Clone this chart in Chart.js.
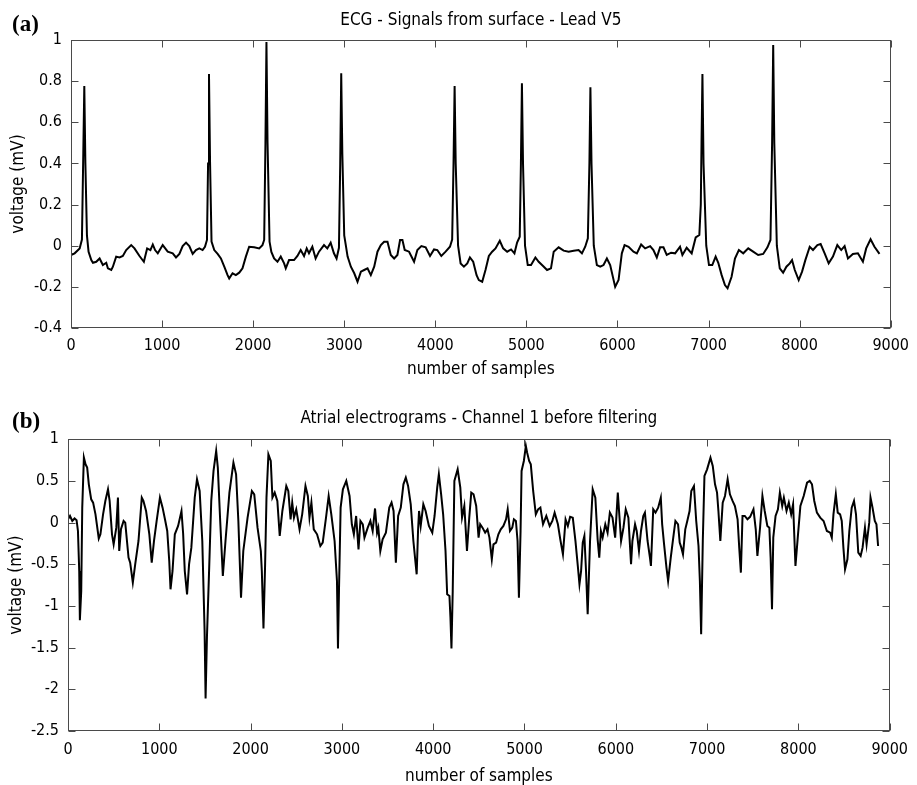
<!DOCTYPE html>
<html><head><meta charset="utf-8">
<script src="https://cdn.jsdelivr.net/npm/chart.js@4.4.0/dist/chart.umd.min.js"></script>
<style>
html,body{margin:0;padding:0;background:#fff;overflow:hidden;width:917px;height:785px;}
.wrap{position:absolute;left:0;width:917px;}
.lbl{position:absolute;left:12px;font:bold 23px/23px 'Liberation Serif','Times New Roman',serif;color:#000;}
</style></head>
<body>
<div class="wrap" style="top:0;height:385px"><canvas id="c1"></canvas></div>
<div class="wrap" style="top:385px;height:400px"><canvas id="c2"></canvas></div>
<div class="lbl" style="top:12px">(a)</div>
<div class="lbl" style="top:409px">(b)</div>
<script>
const xTickValues = [0,1000,2000,3000,4000,5000,6000,7000,8000,9000];
const ecgTickValues = [-0.4,-0.2,0,0.2,0.4,0.6,0.8,1];
const atrTickValues = [-2.5,-2,-1.5,-1,-0.5,0,0.5,1];
const ecgTitle = 'ECG - Signals from surface - Lead V5';
const atrTitle = 'Atrial electrograms - Channel 1 before filtering';
const xTitle = 'number of samples';
const yTitle = 'voltage (mV)';

const ecgX = [0,40,95,120,135,146,158,175,193,223,241,277,314,350,387,405,442,460,496,533,569,606,661,697,752,800,836,872,898,923,953,1007,1062,1117,1153,1190,1226,1263,1299,1336,1372,1409,1445,1471,1493,1505,1515,1527,1543,1573,1610,1646,1683,1719,1737,1774,1810,1847,1883,1920,1956,2011,2066,2102,2121,2135,2146,2158,2180,2200,2230,2267,2303,2340,2358,2394,2449,2486,2522,2559,2588,2613,2650,2686,2723,2778,2814,2851,2887,2916,2942,2956,2967,2979,3000,3018,3037,3073,3110,3146,3183,3219,3256,3292,3329,3365,3402,3438,3475,3511,3548,3584,3613,3639,3664,3712,3767,3803,3847,3894,3942,3986,4022,4066,4113,4161,4185,4200,4212,4224,4250,4278,4314,4351,4380,4416,4453,4478,4515,4551,4588,4624,4661,4708,4745,4789,4832,4869,4898,4927,4940,4951,4963,4985,5015,5051,5099,5135,5183,5227,5270,5300,5354,5409,5464,5519,5573,5610,5646,5675,5692,5703,5715,5740,5774,5811,5847,5884,5920,5975,6012,6048,6078,6122,6176,6213,6260,6304,6359,6395,6432,6468,6505,6541,6589,6633,6687,6713,6760,6815,6859,6899,6915,6923,6933,6945,6975,7005,7041,7078,7107,7144,7180,7209,7253,7290,7333,7381,7436,7490,7545,7600,7647,7680,7698,7710,7722,7750,7782,7819,7855,7892,7917,7947,7990,8027,8063,8111,8147,8195,8231,8275,8319,8366,8414,8457,8494,8531,8585,8640,8695,8731,8779,8822,8877];
const ecgY = [-0.045,-0.037,-0.013,0.03,0.45,0.776,0.4,0.05,-0.03,-0.07,-0.083,-0.078,-0.062,-0.094,-0.083,-0.11,-0.118,-0.102,-0.053,-0.057,-0.05,-0.021,0.003,-0.013,-0.05,-0.078,-0.013,-0.021,0.006,-0.021,-0.037,0.003,-0.029,-0.037,-0.057,-0.04,-0.002,0.015,-0.002,-0.04,-0.021,-0.013,-0.021,-0.005,0.028,0.4,0.835,0.4,0.02,-0.021,-0.04,-0.062,-0.102,-0.143,-0.159,-0.134,-0.143,-0.131,-0.11,-0.053,-0.005,-0.008,-0.013,0.003,0.028,0.5,0.99,0.5,0.02,-0.03,-0.062,-0.078,-0.053,-0.086,-0.11,-0.07,-0.07,-0.05,-0.021,-0.05,-0.013,-0.037,-0.005,-0.062,-0.029,0.003,-0.013,0.015,-0.037,-0.062,-0.01,0.4,0.838,0.45,0.05,0.0,-0.053,-0.102,-0.134,-0.175,-0.126,-0.118,-0.11,-0.143,-0.102,-0.029,0.003,0.019,0.019,-0.045,-0.062,-0.045,0.028,0.028,-0.021,-0.029,-0.078,-0.021,-0.002,-0.008,-0.05,-0.018,-0.021,-0.05,-0.029,-0.005,0.03,0.4,0.776,0.4,0.0,-0.086,-0.102,-0.086,-0.057,-0.078,-0.143,-0.167,-0.175,-0.118,-0.05,-0.029,-0.013,0.024,-0.013,-0.029,-0.018,-0.037,0.015,0.044,0.4,0.79,0.4,0.0,-0.094,-0.094,-0.057,-0.078,-0.099,-0.118,-0.11,-0.029,-0.008,-0.024,-0.029,-0.024,-0.021,-0.037,-0.005,0.036,0.4,0.77,0.4,0.0,-0.094,-0.102,-0.094,-0.062,-0.094,-0.2,-0.167,-0.037,0.003,-0.005,-0.029,-0.037,0.006,-0.013,-0.002,-0.021,-0.057,-0.008,-0.008,-0.045,-0.034,-0.037,-0.005,-0.045,-0.01,-0.037,0.04,0.052,0.2,0.5,0.835,0.4,0.0,-0.094,-0.094,-0.053,-0.083,-0.143,-0.191,-0.207,-0.151,-0.062,-0.021,-0.037,-0.013,-0.029,-0.045,-0.04,-0.008,0.028,0.5,0.976,0.5,0.0,-0.11,-0.131,-0.102,-0.086,-0.07,-0.118,-0.167,-0.126,-0.07,-0.005,-0.021,0.003,0.008,-0.037,-0.086,-0.053,0.003,-0.021,-0.002,-0.062,-0.04,-0.037,-0.078,-0.013,0.031,-0.005,-0.04];

const atrX = [0,22,47,72,94,109,123,130,145,156,174,192,210,228,254,275,301,337,355,384,409,438,456,482,500,529,547,561,580,609,627,663,681,710,736,772,808,826,855,891,917,942,971,1007,1036,1062,1087,1109,1123,1145,1170,1206,1243,1261,1279,1304,1326,1351,1388,1413,1442,1471,1496,1507,1522,1543,1569,1594,1623,1641,1667,1696,1725,1768,1812,1841,1866,1895,1920,1967,2014,2040,2076,2112,2123,2141,2159,2174,2195,2221,2239,2264,2293,2319,2348,2391,2413,2438,2456,2475,2500,2536,2565,2601,2627,2645,2666,2692,2728,2764,2790,2826,2855,2884,2920,2946,2957,2968,2986,3011,3048,3084,3109,3131,3156,3182,3203,3229,3247,3283,3312,3337,3363,3385,3399,3421,3446,3482,3519,3544,3566,3591,3616,3645,3674,3700,3725,3754,3783,3819,3834,3845,3863,3892,3917,3953,3990,4015,4044,4062,4087,4109,4135,4153,4178,4189,4200,4214,4232,4268,4297,4316,4341,4370,4395,4417,4442,4471,4497,4515,4540,4569,4595,4616,4642,4660,4689,4714,4740,4769,4798,4816,4841,4866,4884,4906,4924,4939,4957,4968,4993,5015,5029,5051,5069,5095,5124,5149,5174,5203,5239,5276,5305,5330,5366,5392,5421,5450,5475,5500,5529,5558,5584,5602,5620,5638,5656,5674,5692,5718,5747,5776,5801,5819,5837,5856,5885,5910,5935,5964,5993,6022,6037,6058,6084,6109,6138,6167,6182,6211,6229,6254,6276,6301,6319,6348,6374,6385,6410,6435,6464,6493,6508,6529,6555,6573,6602,6627,6653,6682,6700,6718,6736,6761,6783,6808,6827,6856,6881,6906,6921,6935,6953,6971,7000,7037,7062,7087,7109,7124,7145,7171,7196,7225,7250,7279,7305,7334,7352,7370,7388,7413,7442,7471,7508,7533,7551,7580,7606,7631,7660,7682,7696,7711,7725,7750,7776,7797,7823,7841,7870,7895,7921,7942,7968,7993,8022,8058,8095,8124,8149,8174,8203,8239,8276,8312,8348,8366,8384,8410,8431,8457,8475,8493,8511,8537,8558,8584,8609,8631,8656,8682,8703,8729,8747,8776,8790,8812,8837,8855,8873];
const atrY = [0.04,0.08,0.02,0.05,0.03,-0.1,-0.58,-1.17,-0.82,0.18,0.78,0.7,0.66,0.46,0.28,0.24,0.1,-0.19,-0.14,0.1,0.26,0.4,0.26,-0.14,-0.26,-0.06,0.3,-0.34,-0.08,0.02,0.0,-0.42,-0.48,-0.72,-0.5,-0.22,0.3,0.26,0.14,-0.14,-0.48,-0.22,0.02,0.3,0.18,0.04,-0.1,-0.46,-0.8,-0.58,-0.14,-0.04,0.14,-0.13,-0.58,-0.86,-0.5,-0.3,0.3,0.52,0.38,-0.22,-1.29,-2.11,-1.37,-0.66,0.26,0.62,0.86,0.66,0.02,-0.64,-0.22,0.36,0.72,0.58,0.02,-0.9,-0.34,0.06,0.38,0.34,-0.06,-0.34,-0.58,-1.27,-0.5,0.3,0.82,0.74,0.3,0.36,0.26,-0.16,0.14,0.44,0.38,0.04,0.24,0.06,0.16,-0.08,0.1,0.44,0.32,0.06,0.24,-0.08,-0.14,-0.28,-0.24,0.06,0.32,0.1,-0.22,-0.7,-1.51,-0.82,0.18,0.4,0.5,0.32,-0.02,-0.14,0.08,-0.32,0.02,-0.02,-0.18,-0.06,0.02,-0.1,0.17,-0.12,-0.06,-0.34,-0.2,-0.12,0.18,0.24,0.14,-0.48,0.08,0.18,0.46,0.54,0.44,0.22,-0.22,-0.62,-0.1,0.14,-0.04,0.22,0.14,-0.04,-0.12,0.08,0.42,0.58,0.34,0.1,-0.34,-0.86,-0.88,-1.14,-1.51,-0.82,0.5,0.64,0.42,0.06,0.2,-0.34,0.06,0.36,0.34,0.2,-0.18,-0.02,-0.06,-0.12,-0.08,-0.18,-0.44,-0.26,-0.24,-0.14,-0.08,-0.04,0.04,0.16,-0.1,-0.06,0.04,0.02,-0.22,-0.9,-0.1,0.62,0.74,0.92,0.84,0.74,0.7,0.38,0.1,0.16,0.18,-0.02,0.08,-0.04,0.02,0.12,-0.02,-0.2,-0.38,0.04,-0.04,0.07,0.06,-0.22,-0.52,-0.74,-0.58,-0.24,-0.16,-0.58,-1.1,-0.22,0.4,0.3,-0.2,-0.42,-0.1,-0.18,-0.02,-0.12,0.12,0.06,-0.18,0.36,0.12,-0.22,-0.06,0.16,0.06,-0.5,-0.22,-0.02,-0.1,-0.34,-0.1,0.08,0.12,-0.22,-0.42,-0.52,0.16,0.12,0.18,0.3,-0.02,-0.26,-0.54,-0.7,-0.42,-0.2,0.02,-0.02,-0.24,-0.3,-0.38,-0.08,0.02,0.14,0.38,0.44,0.02,-0.28,-0.7,-1.34,-0.22,0.56,0.64,0.78,0.68,0.46,0.36,0.14,-0.22,0.24,0.32,0.52,0.34,0.26,0.2,0.04,-0.3,-0.6,0.08,0.08,0.04,0.07,0.16,-0.08,-0.4,-0.06,0.32,0.14,-0.04,-0.06,-0.42,-1.04,-0.18,0.08,0.16,0.36,0.2,0.3,0.14,0.24,0.1,0.22,-0.52,-0.18,0.2,0.32,0.48,0.5,0.46,0.26,0.12,0.06,0.02,-0.1,-0.12,-0.18,0.1,0.34,0.12,0.1,0.02,-0.3,-0.56,-0.44,-0.1,0.18,0.26,0.1,-0.36,-0.4,-0.3,-0.06,-0.26,0.0,0.3,0.18,0.02,-0.02,-0.28];

const FONT = "'DejaVu Sans Condensed','DejaVu Sans',sans-serif";
Chart.defaults.font.family = FONT;
Chart.defaults.color = '#000';
const FRAME = '#4a4a4a';

const frameTicks = {
  id: 'frameTicks',
  afterDraw(chart) {
    const {ctx, chartArea: a, scales} = chart;
    const L = Math.round(a.left) + 0.5, R = Math.round(a.right) - 0.5;
    const T = Math.round(a.top) + 0.5, B = Math.round(a.bottom) - 0.5;
    const len = 7;
    ctx.save();
    ctx.strokeStyle = FRAME; ctx.lineWidth = 1;
    ctx.beginPath();
    scales.x.ticks.forEach(t => {
      const p = Math.round(scales.x.getPixelForValue(t.value)) + 0.5;
      ctx.moveTo(p, B); ctx.lineTo(p, B - len);
      ctx.moveTo(p, T); ctx.lineTo(p, T + len);
    });
    scales.y.ticks.forEach(t => {
      const p = Math.round(scales.y.getPixelForValue(t.value)) + 0.5;
      ctx.moveTo(L, p); ctx.lineTo(L + len, p);
      ctx.moveTo(R, p); ctx.lineTo(R - len, p);
    });
    ctx.stroke();
    ctx.strokeRect(L, T, R - L, B - T);
    ctx.restore();
  }
};

function makeChart(id, o) {
  const pts = o.xs.map((x, i) => ({x: x, y: o.ys[i]}));
  return new Chart(document.getElementById(id), {
    type: 'line',
    data: { datasets: [{ data: pts, borderColor: '#000', borderWidth: 2, pointRadius: 0, tension: 0, fill: false }] },
    options: {
      animation: false, responsive: true, maintainAspectRatio: false,
      layout: { padding: { left: 0, right: o.padRight, top: 0, bottom: 0 } },
      plugins: {
        legend: { display: false }, tooltip: { enabled: false },
        title: { display: true, text: o.title, fullSize: false, color: '#000',
                 font: { size: 17, weight: 'normal', lineHeight: 1.2 },
                 padding: { top: o.titleTop, bottom: o.titleBottom } }
      },
      scales: {
        x: { type: 'linear', min: 0, max: 9000,
             afterBuildTicks: s => { s.ticks = xTickValues.map(v => ({value: v})); },
             afterFit: s => { s.height = o.xH; },
             grid: { display: false, drawTicks: false }, border: { display: false },
             ticks: { padding: o.xPad, font: { size: 16 }, color: '#000', maxRotation: 0, autoSkip: false,
                      callback: v => String(v) },
             title: { display: true, text: xTitle, color: '#000', font: { size: 17, lineHeight: 1 },
                      padding: { top: 0, bottom: o.xTitlePad } } },
        y: { type: 'linear', min: o.yMin, max: o.yMax,
             afterBuildTicks: s => { s.ticks = o.yTicks.map(v => ({value: v})); },
             afterFit: s => { s.width = o.yW; },
             grid: { display: false, drawTicks: false }, border: { display: false },
             ticks: { padding: 9, font: { size: 16 }, color: '#000', autoSkip: false,
                      callback: v => String(+Number(v).toFixed(2)) },
             title: { display: true, text: yTitle, color: '#000', font: { size: 17, lineHeight: 1 },
                      padding: { top: o.yTitlePad, bottom: 0 } } }
      }
    },
    plugins: [frameTicks]
  });
}

makeChart('c1', { xs: ecgX, ys: ecgY, title: ecgTitle, yMin: -0.4, yMax: 1, yTicks: ecgTickValues,
  padRight: 24, titleTop: 10, titleBottom: 9.6, xH: 57, xPad: 8, xTitlePad: 6.5, yW: 71, yTitlePad: 10 });
makeChart('c2', { xs: atrX, ys: atrY, title: atrTitle, yMin: -2.5, yMax: 1, yTicks: atrTickValues,
  padRight: 21, titleTop: 23.8, titleBottom: 10.1, xH: 54, xPad: 9, xTitlePad: 0, yW: 68, yTitlePad: 8.2 });
</script>
</body></html>
